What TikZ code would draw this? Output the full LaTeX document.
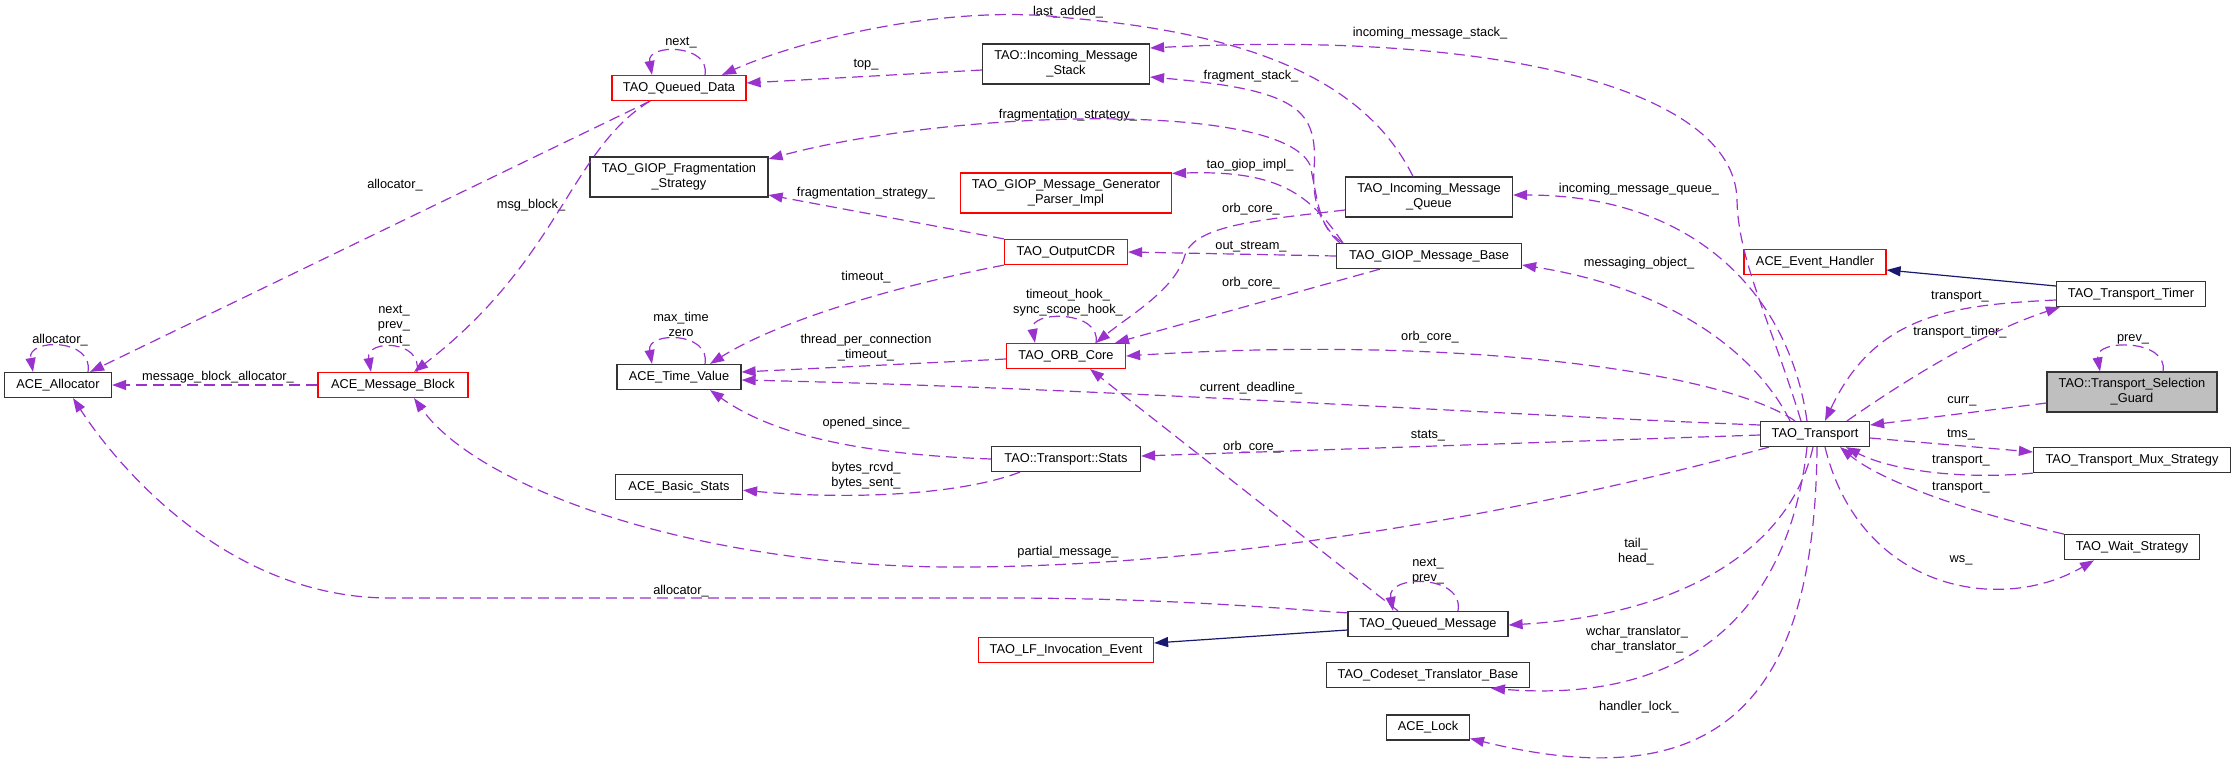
\documentclass[tikz,border=0pt]{standalone}
\usepackage{fontspec}
\setmainfont{Liberation Sans}
\usetikzlibrary{positioning,arrows.meta}
\definecolor{edgepurple}{HTML}{9A32CD}
\definecolor{basenavy}{HTML}{191970}
\definecolor{undocred}{HTML}{FF0000}
\definecolor{focusgray}{HTML}{BFBFBF}

\begin{document}
\begin{tikzpicture}[x=1pt, y=-1pt,
                    classnode/.style={draw=black!80, line width=1.2pt, fill=white, minimum height=25pt, inner xsep=6pt, inner ysep=3pt, align=center, font=\fontsize{12.8}{15}\selectfont},
                    undocnode/.style={classnode, draw=undocred},
                    focusnode/.style={classnode, fill=focusgray},
                    tall/.style={minimum height=40pt},
                    uselink/.style={draw=edgepurple, line width=1.2pt, dash pattern=on 11pt off 6pt, -{Triangle[length=14pt,width=10pt]}},
                    baselink/.style={draw=basenavy, line width=1.2pt, -{Triangle[length=14pt,width=10pt]}},
                    lbl/.style={font=\fontsize{12.8}{15}\selectfont, inner sep=0pt, align=center},
                ]
                    \useasboundingbox (0,0) rectangle (2236,758);

                    %Nodes
                    \node[classnode, minimum width=107pt] (alloc) at (58,385) {ACE\_Allocator};
                    \node[undocnode, minimum width=150pt] (msgblock) at (393,385) {ACE\_Message\_Block};
                    \node[undocnode, minimum width=134pt] (qdata) at (679,88) {TAO\_Queued\_Data};
                    \node[classnode, tall, minimum width=178pt] (fragstrat) at (679,177) {TAO\_GIOP\_Fragmentation\\\_Strategy};
                    \node[classnode, minimum width=124pt] (timeval) at (679,377) {ACE\_Time\_Value};
                    \node[classnode, minimum width=127pt, below=84pt of timeval] (basicstats) {ACE\_Basic\_Stats};
                    \node[classnode, tall, minimum width=167pt] (msgstack) at (1066,64) {TAO::Incoming\_Message\\\_Stack};
                    \node[undocnode, tall, minimum width=211pt] (genparser) at (1066,193) {TAO\_GIOP\_Message\_Generator\\\_Parser\_Impl};
                    \node[undocnode, minimum width=123pt] (outcdr) at (1066,252) {TAO\_OutputCDR};
                    \node[undocnode, minimum width=119pt] (orbcore) at (1066,356) {TAO\_ORB\_Core};
                    \node[classnode, minimum width=149pt] (stats) at (1066,459) {TAO::Transport::Stats};
                    \node[undocnode, minimum width=175pt] (lfevent) at (1066,650) {TAO\_LF\_Invocation\_Event};
                    \node[classnode, tall, minimum width=167pt] (msgqueue) at (1429,197) {TAO\_Incoming\_Message\\\_Queue};
                    \node[classnode, minimum width=185pt] (giopbase) at (1429,256) {TAO\_GIOP\_Message\_Base};
                    \node[undocnode, minimum width=142pt] (evhandler) at (1815,262) {ACE\_Event\_Handler};
                    \node[classnode, minimum width=149pt] (timer) at (2131,294) {TAO\_Transport\_Timer};
                    \node[focusnode, tall, minimum width=170pt] (guard) at (2132,392) {TAO::Transport\_Selection\\\_Guard};
                    \node[classnode, minimum width=109pt] (transport) at (1815,434) {TAO\_Transport};
                    \node[classnode, minimum width=197pt] (mux) at (2132,460) {TAO\_Transport\_Mux\_Strategy};
                    \node[classnode, minimum width=135pt, below=61pt of mux] (wait) {TAO\_Wait\_Strategy};
                    \node[classnode, minimum width=160pt] (qmsg) at (1428,624) {TAO\_Queued\_Message};
                    \node[classnode, minimum width=203pt, below=25pt of qmsg] (codeset) {TAO\_Codeset\_Translator\_Base};
                    \node[classnode, minimum width=83pt, below=26pt of codeset] (acelock) {ACE\_Lock};

                    %Labels
                    \node[lbl] (lb-allocself) at (60,340) {allocator\_};
                    \node[lbl] (lb-mballoc) at (218,377) {message\_block\_allocator\_};
                    \node[lbl] (lb-mbself) at (394,326) {next\_\\prev\_\\cont\_};
                    \node[lbl] (lb-qdalloc) at (395,185) {allocator\_};
                    \node[lbl] (lb-msgblock) at (531,205) {msg\_block\_};
                    \node[lbl] (lb-qdself) at (681,43) {next\_};
                    \node[lbl] (lb-tvself) at (681,324) {max\_time\\zero};
                    \node[lbl] (lb-top) at (866,65) {top\_};
                    \node[lbl] (lb-lastadded) at (1068,12) {last\_added\_};
                    \node[lbl] (lb-instack) at (1430,33) {incoming\_message\_stack\_};
                    \node[lbl] (lb-fragstack) at (1251,76) {fragment\_stack\_};
                    \node[lbl] (lb-fragbase) at (1068,115) {fragmentation\_strategy\_};
                    \node[lbl] (lb-giopimpl) at (1250,165) {tao\_giop\_impl\_};
                    \node[lbl] (lb-fragcdr) at (866,193) {fragmentation\_strategy\_};
                    \node[lbl] (lb-orbqueue) at (1251,209) {orb\_core\_};
                    \node[lbl] (lb-outstream) at (1251,247) {out\_stream\_};
                    \node[lbl] (lb-timeout) at (866,277) {timeout\_};
                    \node[lbl] (lb-orbbase) at (1251,283) {orb\_core\_};
                    \node[lbl] (lb-orbself) at (1068,303) {timeout\_hook\_\\sync\_scope\_hook\_};
                    \node[lbl] (lb-tpctimeout) at (866,348) {thread\_per\_connection\\\_timeout\_};
                    \node[lbl] (lb-orbtransport) at (1430,337) {orb\_core\_};
                    \node[lbl] (lb-deadline) at (1251,388) {current\_deadline\_};
                    \node[lbl] (lb-opened) at (866,423) {opened\_since\_};
                    \node[lbl] (lb-stats) at (1428,436) {stats\_};
                    \node[lbl] (lb-orbqmsg) at (1252,447) {orb\_core\_};
                    \node[lbl] (lb-bytes) at (866,476) {bytes\_rcvd\_\\bytes\_sent\_};
                    \node[lbl] (lb-partial) at (1068,552) {partial\_message\_};
                    \node[lbl] (lb-qmalloc) at (681,591) {allocator\_};
                    \node[lbl] (lb-qmself) at (1428,571) {next\_\\prev\_};
                    \node[lbl] (lb-tailhead) at (1636,552) {tail\_\\head\_};
                    \node[lbl] (lb-translator) at (1637,640) {wchar\_translator\_\\char\_translator\_};
                    \node[lbl] (lb-lock) at (1639,707) {handler\_lock\_};
                    \node[lbl] (lb-inqueue) at (1639,189) {incoming\_message\_queue\_};
                    \node[lbl] (lb-msgobj) at (1639,263) {messaging\_object\_};
                    \node[lbl] (lb-timertr) at (1960,297) {transport\_};
                    \node[lbl] (lb-trtimer) at (1960,332) {transport\_timer\_};
                    \node[lbl] (lb-guardself) at (2133,339) {prev\_};
                    \node[lbl] (lb-curr) at (1962,401) {curr\_};
                    \node[lbl] (lb-tms) at (1961,435) {tms\_};
                    \node[lbl] (lb-muxtr) at (1961,461) {transport\_};
                    \node[lbl] (lb-waittr) at (1961,488) {transport\_};
                    \node[lbl] (lb-ws) at (1961,560) {ws\_};

                    %Lines
                    \draw[uselink] ([xshift=30pt]alloc.north) to[out=80,in=100,looseness=1.6] ([xshift=-25pt]alloc.north);
                    \draw[uselink] (msgblock.west) -- (alloc.east);
                    \draw[uselink] ([xshift=24pt]msgblock.north) to[out=80,in=100,looseness=1.85] ([xshift=-22pt]msgblock.north);
                    \draw[uselink] ([xshift=-29pt]qdata.south) -- ([xshift=32pt]alloc.north);
                    \draw[uselink] ([xshift=-29pt]qdata.south) .. controls (570,150) and (560,260) .. ([xshift=21pt]msgblock.north);
                    \draw[uselink] ([xshift=26pt]qdata.north) to[out=80,in=100,looseness=1.54] ([xshift=-27pt]qdata.north);
                    \draw[uselink] ([yshift=-6pt]msgstack.west) -- ([yshift=5pt]qdata.east);
                    \draw[uselink] ([xshift=-16pt]msgqueue.north) .. controls (1370,90) and (1270,35) .. (1069,18) .. controls (949,3) and (800,40) .. ([xshift=43pt]qdata.north);
                    \draw[uselink] ([xshift=-14pt]transport.north) .. controls (1770,320) and (1738,260) .. (1737,200) .. controls (1735,90) and (1500,30) .. ([yshift=16pt]msgstack.east);
                    \draw[uselink] ([xshift=7pt]giopbase.north west) .. controls (1320,228) and (1312,200) .. (1314,170) .. controls (1318,110) and (1300,90) .. ([yshift=-13pt]msgstack.east);
                    \draw[uselink] ([xshift=4pt]giopbase.north west) .. controls (1318,225) and (1318,200) .. (1310,165) .. controls (1280,100) and (950,110) .. ([yshift=18pt]fragstrat.east);
                    \draw[uselink] (outcdr.north west) -- ([yshift=-18pt]fragstrat.east);
                    \draw[uselink] ([xshift=7pt]giopbase.north west) .. controls (1310,195) and (1280,170) .. ([yshift=-1pt]genparser.north east);
                    \draw[uselink] ([yshift=-13pt]msgqueue.west) .. controls (1260,220) and (1195,225) .. (1185,255) .. controls (1175,290) and (1130,315) .. ([xshift=30pt]orbcore.north);
                    \draw[uselink] (giopbase.west) -- (outcdr.east);
                    \draw[uselink] ([xshift=-49pt]giopbase.south) -- ([xshift=49pt]orbcore.north);
                    \draw[uselink] ([xshift=-20pt]transport.north) .. controls (1720,370) and (1450,335) .. (orbcore.east);
                    \draw[uselink] ([xshift=30pt]orbcore.north) to[out=80,in=100,looseness=1.4] ([xshift=-31pt]orbcore.north);
                    \draw[uselink] ([yshift=-3pt]orbcore.west) -- ([yshift=5pt]timeval.east);
                    \draw[uselink] (outcdr.south west) .. controls (900,285) and (780,320) .. ([xshift=31pt]timeval.north);
                    \draw[uselink] ([xshift=26pt]timeval.north) to[out=80,in=100,looseness=1.6] ([xshift=-27pt]timeval.north);
                    \draw[uselink] ([yshift=9pt]transport.west) .. controls (1500,415) and (1100,388) .. ([yshift=-3pt]timeval.east);
                    \draw[uselink] (stats.west) .. controls (880,455) and (780,440) .. ([xshift=31pt]timeval.south);
                    \draw[uselink] ([xshift=-46pt]stats.south) .. controls (960,495) and (850,500) .. ([yshift=-3pt]basicstats.east);
                    \draw[uselink] ([yshift=-1pt]transport.west) -- ([yshift=3pt]stats.east);
                    \draw[uselink] ([xshift=-30pt]qmsg.north) -- ([xshift=24pt]orbcore.south);
                    \draw[uselink] ([xshift=-46pt]transport.south) .. controls (1500,520) and (1200,568) .. (950,567) .. controls (700,566) and (480,490) .. ([xshift=21pt]msgblock.south);
                    \draw[uselink] ([yshift=-2pt]qmsg.north west) .. controls (1250,606) and (1150,598) .. (1000,598) -- (390,598) .. controls (230,598) and (120,470) .. ([xshift=15pt]alloc.south);
                    \draw[baselink] ([yshift=-6pt]qmsg.west) -- ([yshift=7pt]lfevent.east);
                    \draw[uselink] ([xshift=30pt]qmsg.north) to[out=80,in=100,looseness=1.47] ([xshift=-35pt]qmsg.north);
                    \draw[uselink] ([xshift=-2pt]transport.south) .. controls (1790,550) and (1680,615) .. ([yshift=-1pt]qmsg.east);
                    \draw[uselink] ([xshift=-8pt]transport.south) .. controls (1790,600) and (1700,705) .. ([xshift=63pt]codeset.south);
                    \draw[uselink] ([xshift=2pt]transport.south) .. controls (1815,700) and (1720,800) .. ([yshift=2pt]acelock.south east);
                    \draw[uselink] ([xshift=-8pt]transport.north) .. controls (1790,300) and (1700,195) .. ([yshift=2pt]msgqueue.east);
                    \draw[uselink] ([xshift=-25pt]transport.north) .. controls (1760,360) and (1680,290) .. ([yshift=-9pt]giopbase.east);
                    \draw[baselink] ([yshift=8pt]timer.west) -- ([yshift=-8pt]evhandler.east);
                    \draw[uselink] ([yshift=-6pt]timer.west) .. controls (1950,305) and (1875,315) .. ([xshift=10pt]transport.north);
                    \draw[uselink] ([xshift=32pt]transport.north) .. controls (1920,370) and (1990,330) .. ([xshift=4pt]timer.south west);
                    \draw[uselink] ([xshift=31pt]guard.north) to[out=80,in=100,looseness=1.35] ([xshift=-32pt]guard.north);
                    \draw[uselink] ([yshift=-11pt]guard.west) -- ([yshift=9pt]transport.east);
                    \draw[uselink] ([yshift=-4pt]transport.east) -- ([yshift=8pt]mux.west);
                    \draw[uselink] (mux.south west) .. controls (1960,480) and (1890,470) .. ([xshift=31pt]transport.south);
                    \draw[uselink] (wait.north west) .. controls (1960,510) and (1880,480) .. ([xshift=25pt]transport.south);
                    \draw[uselink] ([xshift=10pt]transport.south) .. controls (1860,590) and (2000,615) .. ([xshift=-38pt]wait.south);
                \end{tikzpicture}
\end{document}
